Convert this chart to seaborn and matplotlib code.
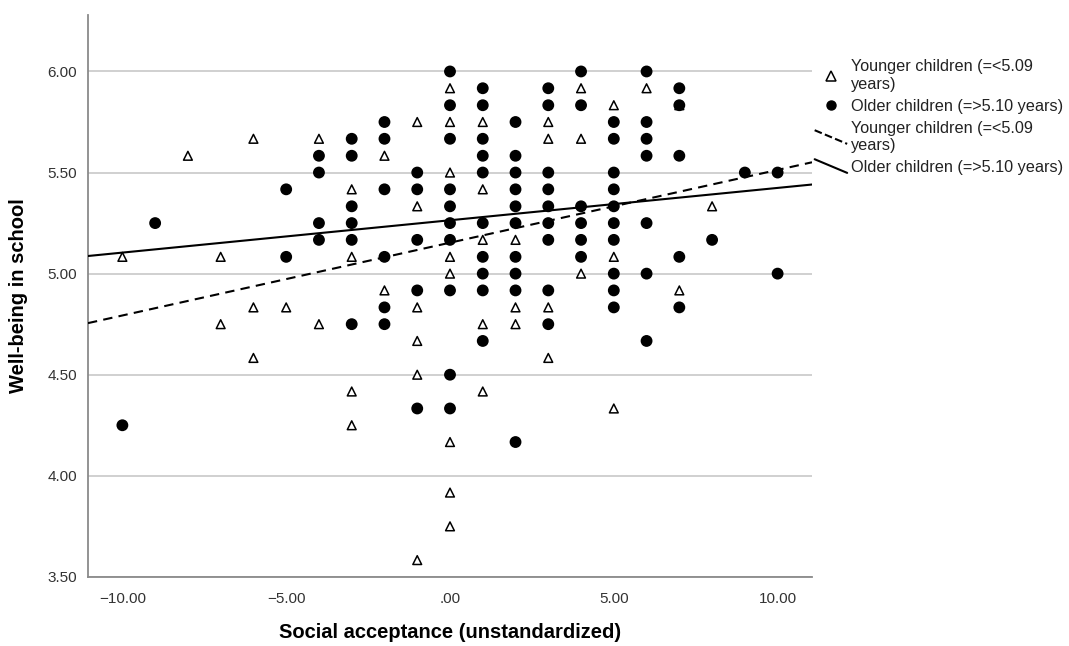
import matplotlib
matplotlib.use("Agg")
import matplotlib.pyplot as plt
from matplotlib.lines import Line2D
from matplotlib.legend_handler import HandlerBase
import numpy as np
import pandas as pd
import seaborn as sns

# ---- data ----
young_x = [-10, -8, -7, -7, -6, -6, -6, -5, -4, -4, -3, -3, -3, -3, -2, -2,
           -1, -1, -1, -1, -1, -1, 0, 0, 0, 0, 0, 0, 0, 0, 1, 1, 1, 1, 1,
           2, 2, 2, 3, 3, 3, 3, 4, 4, 4, 5, 5, 5, 6, 7, 7, 8]
young_y = [5.083, 5.583, 5.083, 4.75, 5.667, 4.833, 4.583, 4.833, 5.667, 4.75,
           5.417, 5.083, 4.417, 4.25, 5.583, 4.917,
           5.75, 5.333, 4.833, 4.667, 4.5, 3.583,
           5.917, 5.75, 5.5, 5.083, 5.0, 4.167, 3.917, 3.75,
           5.75, 5.417, 5.167, 4.75, 4.417,
           5.167, 4.833, 4.75, 5.75, 5.667, 4.833, 4.583,
           5.917, 5.667, 5.0, 5.833, 5.083, 4.333, 5.917, 5.833, 4.917, 5.333]

old_x = [-10, -9, -5, -5, -4, -4, -4, -4, -3, -3, -3, -3, -3, -3,
         -2, -2, -2, -2, -2, -2, -1, -1, -1, -1, -1,
         0, 0, 0, 0, 0, 0, 0, 0, 0, 0,
         1, 1, 1, 1, 1, 1, 1, 1, 1, 1,
         2, 2, 2, 2, 2, 2, 2, 2, 2, 2,
         3, 3, 3, 3, 3, 3, 3, 3, 3,
         4, 4, 4, 4, 4, 4,
         5, 5, 5, 5, 5, 5, 5, 5, 5, 5,
         6, 6, 6, 6, 6, 6, 6,
         7, 7, 7, 7, 7, 8, 9, 10, 10]
old_y = [4.25, 5.25, 5.417, 5.083, 5.583, 5.5, 5.25, 5.167,
         5.667, 5.583, 5.333, 5.25, 5.167, 4.75,
         5.75, 5.667, 5.417, 5.083, 4.833, 4.75,
         5.5, 5.417, 5.167, 4.917, 4.333,
         6.0, 5.833, 5.667, 5.417, 5.333, 5.25, 5.167, 4.917, 4.5, 4.333,
         5.917, 5.833, 5.667, 5.583, 5.5, 5.25, 5.083, 5.0, 4.917, 4.667,
         5.75, 5.583, 5.5, 5.417, 5.333, 5.25, 5.083, 5.0, 4.917, 4.167,
         5.917, 5.833, 5.5, 5.417, 5.333, 5.25, 5.167, 4.917, 4.75,
         6.0, 5.833, 5.333, 5.25, 5.167, 5.083,
         5.75, 5.667, 5.5, 5.417, 5.333, 5.25, 5.167, 5.0, 4.917, 4.833,
         6.0, 5.75, 5.667, 5.583, 5.25, 5.0, 4.667,
         5.917, 5.833, 5.583, 5.083, 4.833, 5.167, 5.5, 5.5, 5.0]

group_labels = ["Younger children (=<5.09\nyears)", "Older children (=>5.10 years)"]
# fit lines (intercept, slope)
fit_intercepts = [5.153, 5.264]
fit_slopes = [0.036, 0.016]

x_ticks = [-10, -5, 0, 5, 10]
x_tick_labels = ["\u221210.00", "\u22125.00", ".00", "5.00", "10.00"]
y_ticks = [3.5, 4.0, 4.5, 5.0, 5.5, 6.0]
y_tick_labels = ["3.50", "4.00", "4.50", "5.00", "5.50", "6.00"]

df = pd.DataFrame({
    "x": young_x + old_x,
    "y": young_y + old_y,
    "group": [group_labels[0]] * len(young_x) + [group_labels[1]] * len(old_x),
})

sns.set_theme(style="white")
plt.rcParams["font.family"] = ["Liberation Sans", "DejaVu Sans"]

fig = plt.figure(figsize=(10.69, 6.46), dpi=100)
ax = fig.add_axes([0.0823, 0.107, 0.6773, 0.870])

XL = (-11.05, 11.05)
YL = (3.5, 6.28)

ax.set_xlim(*XL)
ax.set_ylim(*YL)
ax.set_yticks(y_ticks)
ax.set_yticklabels(y_tick_labels)
ax.set_xticks(x_ticks)
ax.set_xticklabels(x_tick_labels)
ax.yaxis.grid(True, color="#c8c8c8", lw=1.2)
ax.set_axisbelow(True)

sns.scatterplot(data=df, x="x", y="y", style="group", hue="group",
                markers={group_labels[0]: "^", group_labels[1]: "o"},
                palette={group_labels[0]: "white", group_labels[1]: "black"},
                size="group", sizes={group_labels[0]: 40, group_labels[1]: 55},
                edgecolor="black", linewidth=1.1, ax=ax, legend=False, zorder=3)

xs = np.array(XL)
line_styles = [(0, (4.5, 3)), "-"]
line_handles = []
for b0, b1, ls, lab in zip(fit_intercepts, fit_slopes, line_styles, group_labels):
    h, = ax.plot(xs, b0 + b1 * xs, color="black", lw=1.5, ls=ls, zorder=4)
    line_handles.append(h)

for s in ["top", "right"]:
    ax.spines[s].set_visible(False)
for s in ["left", "bottom"]:
    ax.spines[s].set_color("#8a8a8a")
    ax.spines[s].set_linewidth(1.3)

ax.tick_params(axis="both", length=0, labelsize=11, labelcolor="#333333")
ax.tick_params(axis="y", pad=8)
ax.tick_params(axis="x", pad=11)
ax.set_xlabel("Social acceptance (unstandardized)", fontsize=14.5, fontweight="bold",
              labelpad=12, color="black")
ax.set_ylabel("Well-being in school", fontsize=14.5, fontweight="bold", labelpad=14,
              color="black")


class DiagHandler(HandlerBase):
    def create_artists(self, legend, orig_handle, xdescent, ydescent, width, height,
                       fontsize, trans):
        l = Line2D([-xdescent, -xdescent + width],
                   [-ydescent + height * 1.1, -ydescent - height * 0.1],
                   color=orig_handle.get_color(), lw=orig_handle.get_linewidth(),
                   ls=orig_handle.get_linestyle())
        l.set_transform(trans)
        return [l]


tri = Line2D([], [], marker="^", ls="none", markerfacecolor="white",
             markeredgecolor="black", markersize=7, markeredgewidth=1.1)
dot = Line2D([], [], marker="o", ls="none", markerfacecolor="black",
             markeredgecolor="black", markersize=6.5)
handles = [tri, dot] + line_handles
labels = [group_labels[0], group_labels[1], group_labels[0], group_labels[1]]
leg = fig.legend(handles, labels, loc="upper left", bbox_to_anchor=(0.756, 0.918),
                 frameon=False, fontsize=11.7, handlelength=2.0, handletextpad=0.25,
                 labelspacing=0.42, borderaxespad=0,
                 handler_map={line_handles[0]: DiagHandler(),
                              line_handles[1]: DiagHandler()})
for t in leg.get_texts():
    t.set_color("#222222")

fig.savefig("out.png", dpi=100)
